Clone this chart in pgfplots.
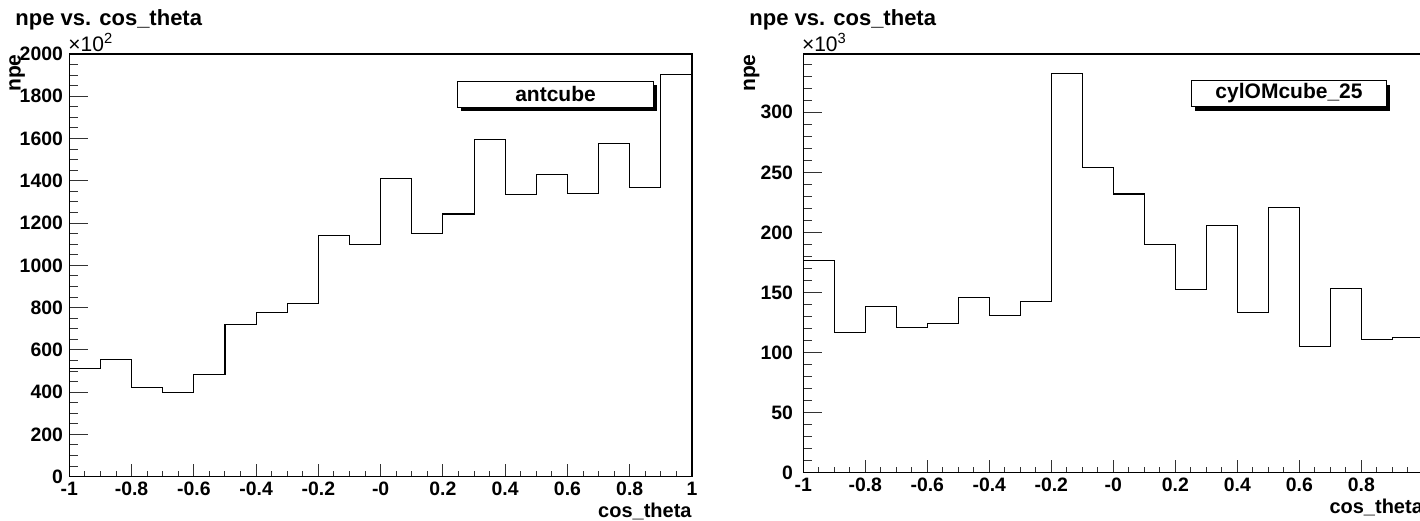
\documentclass[border=0pt]{standalone}
\usepackage{pgfplots}
\pgfplotsset{compat=1.18}
\usepackage{pgfplotstable}
\usepackage{fontspec}
\setmainfont{Liberation Sans}
\usetikzlibrary{shadows}

\pgfplotstableread{
x y
-1.0 513
-0.9 554
-0.8 424
-0.7 397
-0.6 484
-0.5 721
-0.4 779
-0.3 820
-0.2 1140
-0.1 1099
0.0 1412
0.1 1151
0.2 1243
0.3 1596
0.4 1336
0.5 1429
0.6 1339
0.7 1576
0.8 1367
0.9 1905
1.0 1905
}\antcube

\pgfplotstableread{
x y
-1.0 176.6
-0.9 117.0
-0.8 138.6
-0.7 120.9
-0.6 124.5
-0.5 145.8
-0.4 130.9
-0.3 142.8
-0.2 331.9
-0.1 254.0
0.0 232.0
0.1 189.6
0.2 152.5
0.3 206.0
0.4 133.4
0.5 220.4
0.6 105.4
0.7 153.0
0.8 111.2
0.9 112.8
1.0 112.8
}\cylom

\pgfplotsset{
  rootaxis/.style={
    scale only axis,
    anchor=south west,
    xmin=-1, xmax=1, ymin=0,
    axis line style={line width=0.6pt, black},
    tick align=inside,
    tick pos=left,
    xtick={-1,-0.8,-0.6,-0.4,-0.2,0,0.2,0.4,0.6,0.8,1},
    xticklabels={-1,-0.8,-0.6,-0.4,-0.2,-0,0.2,0.4,0.6,0.8,1},
    minor xtick={-0.95,-0.9,-0.85,-0.75,-0.7,-0.65,-0.55,-0.5,-0.45,-0.35,-0.3,-0.25,-0.15,-0.1,-0.05,0.05,0.1,0.15,0.25,0.3,0.35,0.45,0.5,0.55,0.65,0.7,0.75,0.85,0.9,0.95},
    major tick length=9.3pt,
    minor tick length=4.5pt,
    xtick style={/pgfplots/major tick length=6.2pt,/pgfplots/minor tick length=3pt},
    every tick/.style={line width=0.5pt, black!80},
    /pgf/number format/assume math mode=true,
    tick label style={font=\bfseries\fontsize{9.7}{10}\selectfont},
    xticklabel style={inner sep=0pt, anchor=north, yshift=-2.6pt},
    yticklabel style={inner sep=0pt, anchor=east, xshift=-3pt},
    xlabel={cos\_theta},
    xlabel style={font=\bfseries\fontsize{10}{11}\selectfont, at={(axis description cs:1,0)}, anchor=north east, inner sep=0pt, yshift=-13pt},
    ylabel={npe},
    ylabel style={font=\bfseries\fontsize{10.5}{11}\selectfont, inner sep=0pt, anchor=south east},
    clip=true,
  },
  histo/.style={const plot, black, line width=0.55pt, mark=none},
}

\begin{document}
\begin{tikzpicture}
\useasboundingbox (0,0) rectangle (710pt,260pt);

% ---------- left panel ----------
\node[anchor=base west, inner sep=0pt, font=\bfseries\fontsize{11}{12}\selectfont] at (7.5pt,247pt) {npe vs. cos\_theta};
\node[anchor=base west, inner sep=0pt, font=\fontsize{10.5}{11}\selectfont] at (34pt,234.2pt) {×10\textsuperscript{2}};
\begin{axis}[rootaxis,
  at={(34.65pt,21.65pt)},
  width=311.35pt, height=211.35pt,
  ymax=2000,
  ytick={0,200,400,600,800,1000,1200,1400,1600,1800,2000},
  yticklabels={0,200,400,600,800,1000,1200,1400,1600,1800,2000},
  minor ytick={50,100,150,250,300,350,450,500,550,650,700,750,850,900,950,1050,1100,1150,1250,1300,1350,1450,1500,1550,1650,1700,1750,1850,1900,1950},
  ylabel style={at={(axis description cs:-0.0707,1)}},
]
\addplot[histo] table[x=x,y=y] {\antcube};
\node[draw=black, line width=0.5pt, fill=white, anchor=north east, minimum width=98pt, minimum height=13pt, inner sep=0pt,
  drop shadow={shadow xshift=1.9pt, shadow yshift=-2.1pt, fill=black, opacity=1},
  font=\bfseries\fontsize{10.5}{11}\selectfont] at (axis description cs:0.939,0.937) {antcube};
\end{axis}

% ---------- right panel ----------
\node[anchor=base west, inner sep=0pt, font=\bfseries\fontsize{11}{12}\selectfont] at (374.5pt,247pt) {npe vs. cos\_theta};
\node[anchor=base west, inner sep=0pt, font=\fontsize{10.5}{11}\selectfont] at (400.8pt,234.2pt) {×10\textsuperscript{3}};
\begin{axis}[rootaxis,
  at={(401.65pt,23.65pt)},
  width=310pt, height=209.35pt,
  ymax=348.5,
  xticklabels={-1,-0.8,-0.6,-0.4,-0.2,-0,0.2,0.4,0.6,0.8,{}},
  ytick={0,50,100,150,200,250,300},
  yticklabels={0,50,100,150,200,250,300},
  minor ytick={10,20,30,40,60,70,80,90,110,120,130,140,160,170,180,190,210,220,230,240,260,270,280,290,310,320,330,340},
  yticklabel style={xshift=-2pt},
  ylabel style={at={(axis description cs:-0.07,1)}},
]
\addplot[histo] table[x=x,y=y] {\cylom};
\node[draw=black, line width=0.5pt, fill=white, anchor=north east, minimum width=97.5pt, minimum height=13pt, inner sep=0pt,
  drop shadow={shadow xshift=1.9pt, shadow yshift=-2.1pt, fill=black, opacity=1},
  font=\bfseries\fontsize{10.5}{11}\selectfont] at (axis description cs:0.9415,0.938) {cylOMcube\_25};
\end{axis}
\end{tikzpicture}
\end{document}
